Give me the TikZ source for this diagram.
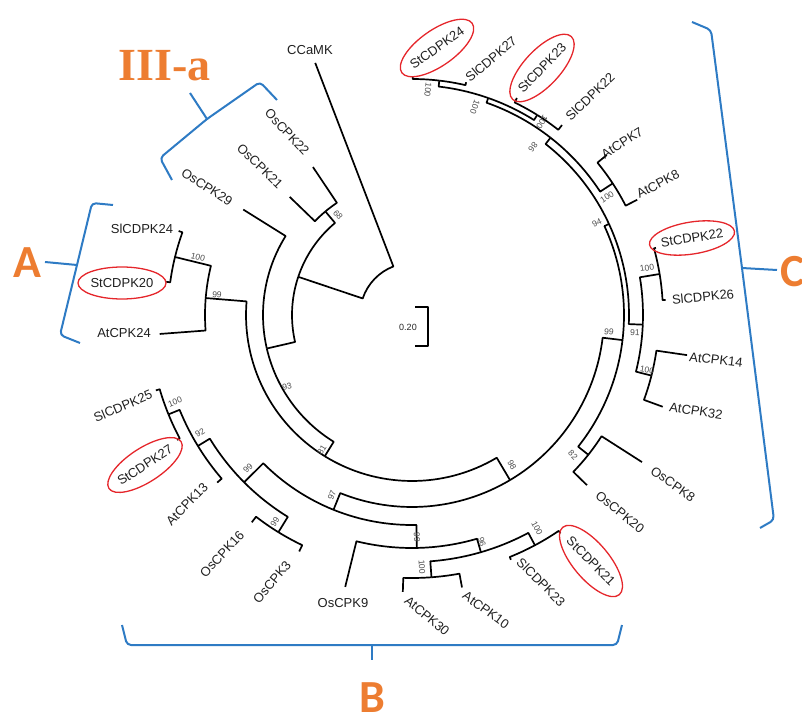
\documentclass[tikz,border=0pt]{standalone}
\usepackage{fontspec}
\setmainfont{Liberation Sans}
\newfontfamily\groupfont{Carlito}
\newfontfamily\romanfont{Liberation Serif}
\usepackage{xcolor}
\definecolor{cladeblue}{HTML}{2E7BC4}
\definecolor{cladeorange}{HTML}{ED7D31}
\definecolor{markred}{HTML}{E5262B}
\usepackage{tikz}
\usetikzlibrary{calc}
% one branch: arc on the parent radius, then out to the child
\newcommand{\twig}[4]{\draw[branch] (#1:#2) arc[start angle=#1, end angle=#3, radius=#2] -- (#3:#4);}

\begin{document}
\begin{tikzpicture}[x=1pt, y=1pt, font=\fontsize{13}{15}\selectfont,
  branch/.style={line width=1.7pt, line join=round, black},
  leaf/.style={inner sep=0pt, text=black!88},
  boot/.style={inner sep=0pt, text=black!70, font=\fontsize{8.5}{9}\selectfont},
  hl/.style={draw=markred, line width=1.3pt},
  brace/.style={draw=cladeblue, line width=2pt, line join=round, rounded corners=4pt},
  group/.style={inner sep=0pt, text=cladeorange, font=\groupfont\bfseries\fontsize{46}{46}\selectfont}]
  \useasboundingbox (-412,-402) rectangle (390,315);
  \clip (-412,-402) rectangle (390,315);

  % root and outgroup
  \twig{-223.8}{52}{-249}{270}
  \twig{-223.8}{52}{-198.55}{120}
  \twig{-198.55}{120}{-230.1}{135}
  \twig{-198.55}{120}{-167}{149}
  \twig{-230.1}{135}{-236.2}{178}
  \twig{-230.1}{135}{-224}{170}
  \twig{-167}{149}{-212}{199}
  \twig{-167}{149}{-121.7}{166}
  \twig{-121.7}{166}{-184.7}{207}
  \twig{-121.7}{166}{-59.3}{192}
  % group A
  \twig{-184.7}{207}{-193.75}{244}
  \twig{-184.7}{207}{-175.7}{253}
  \twig{-193.75}{244}{-199.8}{248}
  \twig{-193.75}{244}{-187.7}{248}
  % group B
  \twig{-59.3}{192}{-111.95}{210}
  \twig{-111.95}{210}{-135.1}{237}
  \twig{-111.95}{210}{-88.8}{233}
  \twig{-135.1}{237}{-148.55}{251}
  \twig{-135.1}{237}{-121.6}{255}
  \twig{-148.55}{251}{-157.8}{263}
  \twig{-148.55}{251}{-139.3}{257}
  \twig{-157.8}{263}{-163.6}{267}
  \twig{-157.8}{263}{-152}{266}
  \twig{-121.6}{255}{-127.7}{262}
  \twig{-121.6}{255}{-115.5}{262}
  \twig{-88.8}{233}{-103.8}{280}
  \twig{-88.8}{233}{-73.8}{247}
  \twig{-73.8}{247}{-85.75}{263}
  \twig{-73.8}{247}{-61.9}{261}
  \twig{-85.75}{263}{-91.9}{277}
  \twig{-85.75}{263}{-79.6}{277}
  \twig{-61.9}{261}{-68}{264}
  \twig{-61.9}{261}{-55.8}{264}
  % group C
  \twig{-59.3}{192}{-6.8}{212}
  \twig{-6.8}{212}{-38.4}{225}
  \twig{-6.8}{212}{24.8}{217}
  \twig{-38.4}{225}{-32.6}{273}
  \twig{-38.4}{225}{-44.2}{244}
  \twig{24.8}{217}{52}{225}
  \twig{24.8}{217}{-2.4}{231}
  \twig{-2.4}{231}{9.4}{251}
  \twig{-2.4}{231}{-14.2}{247}
  \twig{9.4}{251}{15.4}{253}
  \twig{9.4}{251}{3.4}{254}
  \twig{-14.2}{247}{-8.3}{278}
  \twig{-14.2}{247}{-20.1}{267}
  \twig{52}{225}{70.65}{230}
  \twig{52}{225}{33.25}{240}
  \twig{33.25}{240}{39.4}{252}
  \twig{33.25}{240}{27.1}{253}
  \twig{70.65}{230}{83.35}{236}
  \twig{70.65}{230}{57.95}{236}
  \twig{83.35}{236}{89.8}{238}
  \twig{83.35}{236}{76.9}{239}
  \twig{57.95}{236}{64.2}{241}
  \twig{57.95}{236}{51.7}{242}

  % leaf names
  \node[leaf] (CCaMK) at (-102,265) {CCaMK};
  \node[leaf, rotate=35] (StCDPK24) at (25,267) {StCDPK24};
  \node[leaf, rotate=40] (SlCDPK27) at (79,256) {SlCDPK27};
  \node[leaf, rotate=46] (StCDPK23) at (130,247) {StCDPK23};
  \node[leaf, rotate=44] (SlCDPK22) at (178,218) {SlCDPK22};
  \node[leaf, rotate=32] (AtCPK7) at (210,172) {AtCPK7};
  \node[leaf, rotate=28] (AtCPK8) at (246,131) {AtCPK8};
  \node[leaf, rotate=9] (StCDPK22) at (280,77) {StCDPK22};
  \node[leaf, rotate=6] (SlCDPK26) at (291,18) {SlCDPK26};
  \node[leaf, rotate=-7] (AtCPK14) at (304,-45) {AtCPK14};
  \node[leaf, rotate=-9] (AtCPK32) at (284,-96) {AtCPK32};
  \node[leaf, rotate=-35] (OsCPK8) at (261,-169) {OsCPK8};
  \node[leaf, rotate=-39] (OsCPK20) at (208,-197) {OsCPK20};
  \node[leaf, rotate=-45] (StCDPK21) at (179,-246) {StCDPK21};
  \node[leaf, rotate=-45] (SlCDPK23) at (129,-267) {SlCDPK23};
  \node[leaf, rotate=-36] (AtCPK10) at (74,-295) {AtCPK10};
  \node[leaf, rotate=-40] (AtCPK30) at (15,-301) {AtCPK30};
  \node[leaf] (OsCPK9) at (-69,-288) {OsCPK9};
  \node[leaf, rotate=50] (OsCPK3) at (-140,-267) {OsCPK3};
  \node[leaf, rotate=47] (OsCPK16) at (-190,-239) {OsCPK16};
  \node[leaf, rotate=46] (AtCPK13) at (-225,-189) {AtCPK13};
  \node[leaf, rotate=33] (StCDPK27) at (-267,-150) {StCDPK27};
  \node[leaf, rotate=23] (SlCDPK25) at (-289,-91) {SlCDPK25};
  \node[leaf] (AtCPK24) at (-288,-18) {AtCPK24};
  \node[leaf] (StCDPK20) at (-290,32) {StCDPK20};
  \node[leaf] (SlCDPK24) at (-270,86) {SlCDPK24};
  \node[leaf, rotate=-33] (OsCPK29) at (-205,128) {OsCPK29};
  \node[leaf, rotate=-44] (OsCPK21) at (-152,149) {OsCPK21};
  \node[leaf, rotate=-47] (OsCPK22) at (-125,183) {OsCPK22};

  % potato genes
  \draw[hl, rotate around={35:(StCDPK24.center)}] (StCDPK24.center) ellipse [x radius=43, y radius=18];
  \draw[hl, rotate around={47:(StCDPK23.center)}] (StCDPK23.center) ellipse [x radius=43, y radius=18];
  \draw[hl, rotate around={9:(StCDPK22.center)}] (StCDPK22.center) ellipse [x radius=43, y radius=16];
  \draw[hl] (StCDPK20.center) ellipse [x radius=44, y radius=16];
  \draw[hl, rotate around={33:(StCDPK27.center)}] (StCDPK27.center) ellipse [x radius=43, y radius=17];
  \draw[hl, rotate around={-50:(StCDPK21.center)}] (StCDPK21.center) ellipse [x radius=44, y radius=18];

  % bootstrap values
  \node[boot, rotate=-50] (bs68) at (-74,100) {68};
  \node[boot, rotate=-14] (bsA1) at (-214,58) {100};
  \node[boot, rotate=-5] (bsA2) at (-195,20) {99};
  \node[boot, rotate=13] (bs93) at (-125,-72) {93};
  \node[boot, rotate=58] (bs81) at (-90,-135) {81};
  \node[boot, rotate=45] (bsB8) at (-164,-153) {99};
  \node[boot, rotate=31] (bsB7) at (-212,-118) {92};
  \node[boot, rotate=22] (bsB6) at (-237,-87) {100};
  \node[boot, rotate=58] (bsB5) at (-137,-207) {99};
  \node[boot, rotate=68] (bsB9) at (-80,-180) {97};
  \node[boot, rotate=-89] (bsB4) at (5,-222) {99};
  \node[boot, rotate=-86] (bsB2) at (10,-252) {100};
  \node[boot, rotate=-74] (bsB3) at (70,-227) {96};
  \node[boot, rotate=-62] (bsB1) at (125,-213) {100};
  \node[boot, rotate=-59] (bs98) at (100,-150) {98};
  \node[boot, rotate=-45] (bsC10) at (161,-140) {82};
  \node[boot, rotate=-7] (bsC11) at (197,-17) {99};
  \node[boot, rotate=-2] (bsC8) at (223,-18) {91};
  \node[boot, rotate=-10] (bsC7) at (235,-55) {100};
  \node[boot, rotate=9] (bsC6) at (235,47) {100};
  \node[boot, rotate=25] (bsC9) at (185,92) {94};
  \node[boot, rotate=33] (bsC4) at (195,118) {100};
  \node[boot, rotate=-128] (bsC5) at (121,168) {86};
  \node[boot, rotate=-109] (bsC3) at (63,208) {100};
  \node[boot, rotate=-97] (bsC1) at (16,225) {100};
  \node[boot, rotate=-122] (bsC2) at (130,193) {100};

  % scale
  \draw[branch] (3,8) -- (16,8) -- (16,-31) -- (3,-31);
  \node[boot, text=black!85, font=\fontsize{9}{9}\selectfont] (scale) at (-4,-12) {0.20};

  % groups
  \draw[brace] (-240,135) -- (-252,157) -- (-205,196) -- (-152,233) -- (-135,215);
  \draw[brace] (-205,196) -- (-222,222);
  \draw[brace] (-299,110) -- (-320,112) -- (-335,50) -- (-352,-20) -- (-332,-28);
  \draw[brace] (-335,50) -- (-367,53);
  \draw[brace] (-290,-310) -- (-285,-330) -- (205,-330) -- (210,-310);
  \draw[brace] (-40,-330) -- (-40,-345);
  \draw[brace] (280,293) -- (299,285) -- (330,47) -- (362,-205) -- (348,-213);
  \draw[brace] (330,47) -- (365,45);

  \node[group, font=\romanfont\bfseries\fontsize{46}{46}\selectfont] (IIIa) at (-247,249) {III-a};
  \node[group] (A) at (-385,52) {A};
  \node[group] (B) at (-40,-383) {B};
  \node[group] (C) at (381,43) {C};
\end{tikzpicture}
\end{document}
